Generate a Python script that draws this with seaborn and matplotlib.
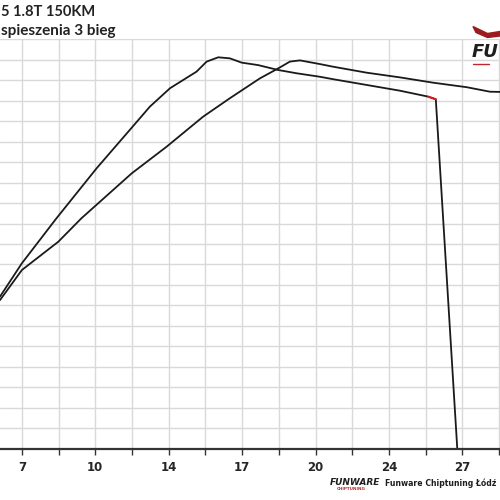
import numpy as np
import pandas as pd
import matplotlib.pyplot as plt
import seaborn as sns

sns.set_theme(style="white")
plt.rcParams['font.family'] = ['Lato', 'DejaVu Sans']

# data
# run 1 (peaks earlier, ends with drop)
run1_x = [6.30, 7.30, 8.88, 10.71, 12.31, 13.14, 14.06, 15.27, 15.73, 16.26,
          16.79, 17.33, 18.08, 19.00, 19.84, 20.90, 21.51, 23.03, 24.55,
          25.84, 26.19, 27.17]
run1_y = [7.43, 9.06, 11.26, 13.70, 15.68, 16.71, 17.61, 18.42, 18.91, 19.12,
          19.07, 18.86, 18.74, 18.50, 18.34, 18.17, 18.05, 17.77, 17.49,
          17.20, 17.07, 0.0]
red_idx = [19, 20]

# run 2
run2_x = [6.30, 7.30, 8.96, 10.02, 12.31, 13.90, 15.57, 16.79, 18.16, 19.00,
          19.53, 19.99, 20.90, 21.51, 23.03, 24.55, 26.07, 27.60, 28.66, 29.11]
run2_y = [7.26, 8.73, 10.11, 11.26, 13.45, 14.75, 16.22, 17.12, 18.09, 18.58,
          18.91, 18.97, 18.79, 18.66, 18.37, 18.14, 17.88, 17.66, 17.44, 17.43]

tick_vals = [7.3, 10.65, 14.0, 17.35, 20.7, 24.05, 27.4]
tick_labels = ["7", "10", "14", "17", "20", "24", "27"]

df1 = pd.DataFrame({"x": run1_x, "y": run1_y})
df2 = pd.DataFrame({"x": run2_x, "y": run2_y})
df_red = df1.iloc[red_idx]

fig = plt.figure(figsize=(5, 5), dpi=100)
ax = fig.add_axes([0.0, 0.1026, 1.0, 0.8188])

sns.lineplot(data=df1, x="x", y="y", sort=False, estimator=None,
             color="#1a1a1a", linewidth=1.3, ax=ax)
sns.lineplot(data=df2, x="x", y="y", sort=False, estimator=None,
             color="#1a1a1a", linewidth=1.3, ax=ax)
sns.lineplot(data=df_red, x="x", y="y", sort=False, estimator=None,
             color="#e8141e", linewidth=1.4, ax=ax)

step = (tick_vals[1] - tick_vals[0]) / 2
minor = [tick_vals[0] + step * k for k in range(0, 14)]
ax.set_xticks(tick_vals)
ax.set_xticklabels(tick_labels, fontsize=8.5, fontweight="bold",
                   family=["DejaVu Sans"])
ax.set_xticks(minor, minor=True)
ax.set_yticks(np.arange(0, 21, 1))
ax.set_yticklabels([])
ax.set_xlim(6.30, 29.12)
ax.set_ylim(0, 20)
ax.grid(True, which="both", axis="x", color="#d9d9d9", linewidth=1.0)
ax.grid(True, which="major", axis="y", color="#d9d9d9", linewidth=1.0)
ax.set_axisbelow(True)
ax.tick_params(axis="x", which="both", direction="out", length=4,
               width=1.0, color="#333333", bottom=True, pad=5)
ax.tick_params(axis="y", length=0)
for s in ["left", "right", "top"]:
    ax.spines[s].set_visible(False)
ax.spines["bottom"].set_color("#333333")
ax.spines["bottom"].set_linewidth(1.6)
ax.set_xlabel("")
ax.set_ylabel("")

# titles (cropped in the original)
fig.text(0.002, 0.968, "5 1.8T 150KM", fontsize=10.5, fontweight="bold",
         color="#222222", va="baseline", ha="left")
fig.text(0.002, 0.930, "spieszenia 3 bieg", fontsize=11, fontweight="bold",
         color="#222222", va="baseline", ha="left")

# logo top right
fig.text(0.944, 0.886, "FU", fontsize=13, fontweight="bold",
         fontstyle="italic", color="#1e1e1e", va="baseline", ha="left",
         family=["DejaVu Sans"])
fig.patches.append(plt.Polygon([[0.946, 0.947], [0.975, 0.933], [1.0, 0.937],
                                [1.0, 0.928], [0.975, 0.925], [0.952, 0.935]],
                               closed=True, transform=fig.transFigure,
                               color="#9b1b1e"))
fig.lines.append(plt.Line2D([0.946, 0.978], [0.873, 0.873],
                            transform=fig.transFigure, color="#c0262c",
                            linewidth=1))

# footer
fig.text(0.660, 0.030, "FUNWARE", fontsize=6.5, fontweight="bold",
         fontstyle="italic", color="#1e1e1e", va="baseline", ha="left",
         family=["DejaVu Sans"])
fig.text(0.673, 0.019, "CHIPTUNING", fontsize=3, fontweight="bold",
         color="#c0262c", va="baseline", ha="left", family=["DejaVu Sans"])
fig.text(0.770, 0.028, "Funware Chiptuning Łódź", fontsize=5.6,
         fontweight="bold", color="#1e1e1e", va="baseline", ha="left",
         family=["DejaVu Sans"])

fig.savefig("out.png", dpi=100)
